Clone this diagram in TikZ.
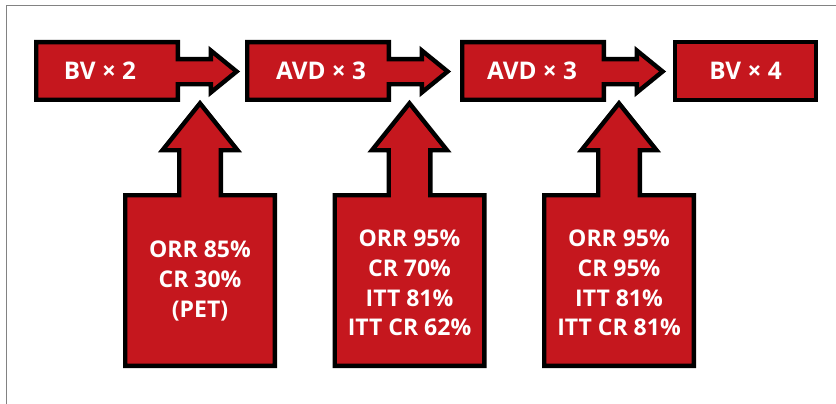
\documentclass[tikz,border=0pt]{standalone}
\usepackage{fontspec}
\setmainfont{Open Sans}
\definecolor{boxred}{RGB}{197,23,30}
\definecolor{framegray}{RGB}{130,130,130}
\tikzset{
  blockshape/.style={draw=black, line width=4.4pt, fill=boxred, line join=miter},
  toplabel/.style={text=white, font=\bfseries\fontsize{24.3}{28}\selectfont, inner sep=0pt},
  botlabel/.style={text=white, font=\bfseries\fontsize{23}{29.8}\selectfont, align=center, inner sep=0pt},
}
\newcommand\hblock[1]{%
  \begin{scope}[xshift=#1pt]
  \path[blockshape] (2.2,42.2) -- (143.8,42.2) -- (143.8,59.2) -- (176.8,59.2) -- (176.8,50.5)
    -- (202.6,71.5) -- (176.8,92.5) -- (176.8,84.3) -- (143.8,84.3) -- (143.8,99.8) -- (2.2,99.8) -- cycle;
  \end{scope}}
\newcommand\vblock[1]{%
  \begin{scope}[xshift=#1pt]
  \path[blockshape] (-74.8,365.8) -- (-74.8,195.2) -- (-20.8,195.2) -- (-20.8,150.2) -- (-37.5,150.2)
    -- (0,103.3) -- (37.5,150.2) -- (20.8,150.2) -- (20.8,195.2) -- (74.8,195.2) -- (74.8,365.8) -- cycle;
  \end{scope}}
\begin{document}
\begin{tikzpicture}[x=1pt,y=-1pt]
\useasboundingbox (0,0) rectangle (836,404);
\draw[framegray, line width=1pt] (6.5,404) -- (6.5,5.5) -- (836,5.5);
% top row
\hblock{34}
\hblock{245}
\hblock{460}
\path[blockshape] (675.2,42.2) rectangle (815.8,99.8);
\node[toplabel] (t1) at (100,71) {BV × 2};
\node[toplabel] (t2) at (321,71) {AVD × 3};
\node[toplabel] (t3) at (532,71) {AVD × 3};
\node[toplabel] (t4) at (745.5,71) {BV × 4};
% bottom arrows
\vblock{200}
\vblock{409.5}
\vblock{619}
\node[botlabel] (b1) at (200,281) {ORR 85\%\\CR 30\%\\(PET)};
\node[botlabel] (b2) at (409.5,283) {ORR 95\%\\CR 70\%\\ITT 81\%\\ITT CR 62\%};
\node[botlabel] (b3) at (619,283) {ORR 95\%\\CR 95\%\\ITT 81\%\\ITT CR 81\%};
\end{tikzpicture}
\end{document}
